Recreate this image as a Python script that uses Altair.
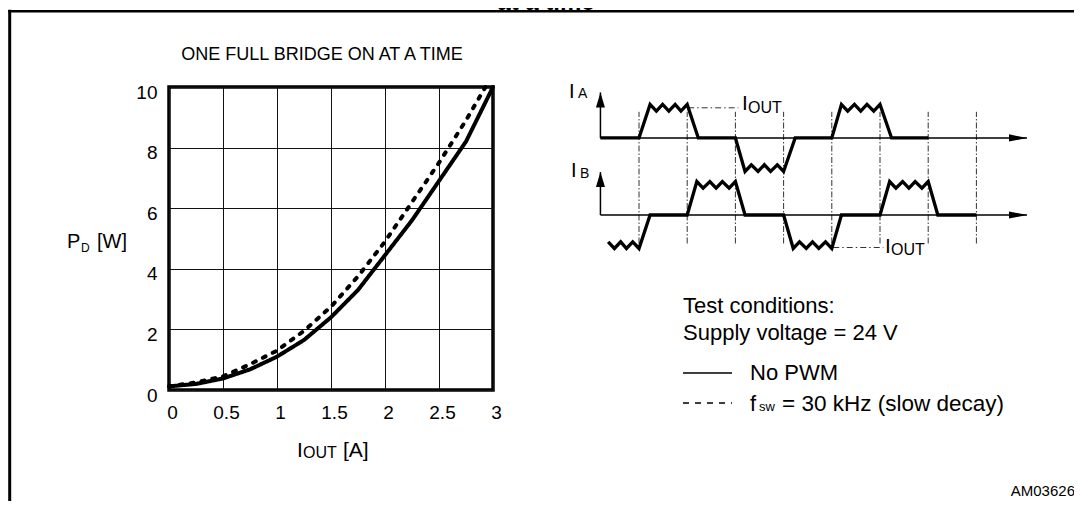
import altair as alt
import pandas as pd

FONT = "Liberation Sans"

# ---------------- data: power dissipation vs output current ----------------
iout_nopwm = [0.0, 0.25, 0.5, 0.75, 1.0, 1.25, 1.5, 1.75, 2.0, 2.25, 2.5, 2.75, 3.0]
pd_nopwm = [0.12, 0.2, 0.38, 0.68, 1.1, 1.65, 2.4, 3.3, 4.45, 5.6, 6.9, 8.2, 10.0]

iout_pwm = [0.0, 0.25, 0.5, 0.75, 1.0, 1.25, 1.5, 1.75, 2.0, 2.25, 2.5, 2.75, 2.93]
pd_pwm = [0.12, 0.25, 0.45, 0.85, 1.3, 1.95, 2.75, 3.75, 4.9, 6.2, 7.5, 8.9, 10.0]

series_names = ["No PWM", "fsw = 30 kHz (slow decay)"]

x_ticks = [0, 0.5, 1, 1.5, 2, 2.5, 3]
y_ticks = [0, 2, 4, 6, 8, 10]

# ---------------- waveform sketch (t in switching periods, current in I_OUT units) ----------------
ia_t = [0.2, 1.0, 1.23, 1.36, 1.49, 1.62, 1.75, 1.87, 2.0, 2.23, 3.0, 3.2, 3.33, 3.47, 3.6,
        3.73, 3.87, 4.0, 4.24, 5.0, 5.2, 5.33, 5.47, 5.6, 5.73, 5.87, 6.0, 6.24, 7.0]
ia_v = [0, 0, 1.0, 0.8, 1.0, 0.8, 1.0, 0.8, 1.0, 0, 0, -1.0, -0.8, -1.0, -0.8,
        -1.0, -0.8, -1.0, 0, 0, 1.0, 0.8, 1.0, 0.8, 1.0, 0.8, 1.0, 0, 0]
ib_t = [0.36, 0.49, 0.62, 0.74, 0.87, 1.0, 1.23, 2.0, 2.2, 2.33, 2.47, 2.6, 2.73, 2.87, 3.0,
        3.2, 4.0, 4.2, 4.33, 4.47, 4.6, 4.73, 4.87, 5.0, 5.2, 6.0, 6.2, 6.33, 6.47, 6.6,
        6.73, 6.87, 7.0, 7.2, 8.0]
ib_v = [-0.8, -1.0, -0.8, -1.0, -0.8, -1.0, 0, 0, 1.0, 0.8, 1.0, 0.8, 1.0, 0.8, 1.0,
        0, 0, -1.0, -0.8, -1.0, -0.8, -1.0, -0.8, -1.0, 0, 0, 1.0, 0.8, 1.0, 0.8,
        1.0, 0.8, 1.0, 0, 0]
IA_BASE = 2.3
IB_BASE = 0.0
period_marks = [1, 2, 3, 4, 5, 6, 7, 8]
axis_start, axis_end = 0.2, 9.05
ia_arrow_top, ib_arrow_top = 3.66, 1.28
iout_a = (2.02, 3.06, 3.2)
iout_b = (5.03, 6.07, -0.97)

# ---------------- layout (page pixels) ----------------
OX, OY = 169, 87          # plot area origin on the page
PW, PH = 324, 303         # plot area size
SVG_W, SVG_H = 1066, 493


def px(x):
    return x - OX


def py(y):
    return y - OY


ONE = alt.Data(values=[{}])


def txt(s, x, y, size, align="left", weight="normal"):
    return alt.Chart(ONE).mark_text(
        text=s, font=FONT, fontSize=size, align=align, baseline="alphabetic",
        fontWeight=weight, color="black"
    ).encode(x=alt.value(px(x)), y=alt.value(py(y)))


def hline(x1, x2, y, width=1.5, dash=None):
    kw = dict(color="black", strokeWidth=width)
    if dash:
        kw["strokeDash"] = dash
    return alt.Chart(ONE).mark_rule(**kw).encode(
        x=alt.value(px(x1)), x2=alt.value(px(x2)), y=alt.value(py(y)))


# ---------------- main plot ----------------
xs = alt.Scale(domain=[0, 3], nice=False, zero=False)
ys = alt.Scale(domain=[0, 10], nice=False, zero=False)
common_axis = dict(grid=True, gridColor="#111111", gridWidth=1, gridOpacity=1,
                   domain=False, ticks=False, labelFont=FONT, labelColor="black",
                   labelFontSize=19, labelFontWeight="normal", labelFlush=False,
                   labelOverlap=False, labelExpr="'' + datum.value", title=None)
x_axis = alt.Axis(values=x_ticks, labelPadding=13, labelOffset=3, **common_axis)
y_axis = alt.Axis(values=y_ticks, labelPadding=12, labelOffset=5, **common_axis)

df_curves = pd.concat([
    pd.DataFrame({"iout": iout_nopwm, "pd": pd_nopwm, "series": series_names[0]}),
    pd.DataFrame({"iout": iout_pwm, "pd": pd_pwm, "series": series_names[1]}),
])

main = alt.Chart(df_curves).mark_line(color="black", strokeWidth=4, strokeJoin="round",
                                      strokeCap="round").encode(
    x=alt.X("iout:Q", scale=xs, axis=x_axis),
    y=alt.Y("pd:Q", scale=ys, axis=y_axis),
    strokeDash=alt.StrokeDash("series:N", legend=None,
                              scale=alt.Scale(domain=series_names, range=[[1, 0], [3, 8]])),
    order="iout:Q",
)

# ---------------- waveform sketch ----------------
T0_PX, T_UNIT = 590.8, 48.2
W0_PY, W_UNIT = 215.0, 33.5
ts = alt.Scale(domain=[0, 9], range=[px(T0_PX), px(T0_PX + 9 * T_UNIT)], nice=False, zero=False)
ws = alt.Scale(domain=[-1.5, 4], range=[py(W0_PY + 1.5 * W_UNIT), py(W0_PY - 4 * W_UNIT)],
               nice=False, zero=False)

df_wave = pd.concat([
    pd.DataFrame({"t": ia_t, "w": [v + IA_BASE for v in ia_v], "trace": "IA",
                  "i": range(len(ia_t))}),
    pd.DataFrame({"t": ib_t, "w": [v + IB_BASE for v in ib_v], "trace": "IB",
                  "i": range(len(ib_t))}),
])
wave_lines = alt.Chart(df_wave).mark_line(color="black", strokeWidth=3.3,
                                          strokeJoin="miter").encode(
    x=alt.X("t:Q", scale=ts, axis=None),
    y=alt.Y("w:Q", scale=ws, axis=None),
    detail="trace:N",
    order="i:Q",
)

df_per = pd.DataFrame({"t": period_marks, "w0": -0.85, "w1": 3.08})
period_rules = alt.Chart(df_per).mark_rule(color="#333333", strokeWidth=1,
                                           strokeDash=[6, 2, 1.5, 2]).encode(
    x=alt.X("t:Q", scale=ts, axis=None),
    y=alt.Y("w0:Q", scale=ws, axis=None),
    y2="w1:Q",
)

df_ax = pd.DataFrame({
    "t0": [axis_start, axis_start, axis_start, axis_start],
    "t1": [axis_end, axis_end, axis_start, axis_start],
    "w0": [IA_BASE, IB_BASE, IA_BASE, IB_BASE],
    "w1": [IA_BASE, IB_BASE, ia_arrow_top, ib_arrow_top],
})
axes_rules = alt.Chart(df_ax).mark_rule(color="black", strokeWidth=1.5).encode(
    x=alt.X("t0:Q", scale=ts, axis=None), x2="t1:Q",
    y=alt.Y("w0:Q", scale=ws, axis=None), y2="w1:Q",
)

arrow_len_t = 9 / T_UNIT
arrow_len_w = 7.5 / W_UNIT
df_ar_r = pd.DataFrame({"t": [axis_end - arrow_len_t] * 2, "w": [IA_BASE, IB_BASE]})
df_ar_u = pd.DataFrame({"t": [axis_start] * 2,
                        "w": [ia_arrow_top - arrow_len_w, ib_arrow_top - arrow_len_w]})
arrows_r = alt.Chart(df_ar_r).mark_point(shape="M1,0L-1,-0.4L-1,0.4Z", filled=True, size=324,
                                         color="black", opacity=1, strokeWidth=0).encode(
    x=alt.X("t:Q", scale=ts, axis=None), y=alt.Y("w:Q", scale=ws, axis=None))
arrows_u = alt.Chart(df_ar_u).mark_point(shape="M0,-1L0.6,1L-0.6,1Z", filled=True, size=225,
                                         color="black", opacity=1, strokeWidth=0).encode(
    x=alt.X("t:Q", scale=ts, axis=None), y=alt.Y("w:Q", scale=ws, axis=None))

df_io = pd.DataFrame({"t0": [iout_a[0], iout_b[0]], "t1": [iout_a[1], iout_b[1]],
                      "w": [iout_a[2], iout_b[2]]})
iout_rules = alt.Chart(df_io).mark_rule(color="#333333", strokeWidth=1,
                                        strokeDash=[6, 3, 1.5, 3]).encode(
    x=alt.X("t0:Q", scale=ts, axis=None), x2="t1:Q",
    y=alt.Y("w:Q", scale=ws, axis=None),
)

wave = alt.layer(period_rules, iout_rules, axes_rules, wave_lines, arrows_r, arrows_u)

# ---------------- texts ----------------
texts = [
    txt("at a time", 546, 9.5, 24, align="center", weight="bold"),
    txt("ONE FULL BRIDGE ON AT A TIME", 322, 60, 18, align="center"),
    # y axis title P_D [W]
    txt("P", 67, 248, 20), txt("D", 81, 252, 12), txt("[W]", 97, 248, 20),
    # x axis title I_OUT [A]
    txt("I", 297, 457, 21), txt("OUT", 303, 458, 16), txt("[A]", 343, 457, 21),
    # waveform labels
    txt("I", 569, 98, 20), txt("A", 578, 98, 14),
    txt("I", 571, 177, 20), txt("B", 580, 178, 14),
    txt("I", 742, 110, 21), txt("OUT", 748, 113, 16),
    txt("I", 885, 253, 21), txt("OUT", 891, 255, 16),
    # test conditions / legend
    txt("Test conditions:", 683, 313, 22),
    txt("Supply voltage = 24 V", 683, 340, 22),
    txt("No PWM", 750, 380, 22),
    txt("f", 750, 411, 22), txt("sw", 759, 411, 13),
    txt("= 30 kHz (slow decay)", 782, 411, 22.5),
    txt("AM03626", 1075, 496, 15, align="right"),
]

frame = [
    alt.Chart(ONE).mark_rule(color="black", strokeWidth=3).encode(
        x=alt.value(px(9.7)), y=alt.value(py(9.8)), y2=alt.value(py(SVG_H + 20))),
    alt.Chart(ONE).mark_rule(color="black", strokeWidth=2.5).encode(
        x=alt.value(px(8.3)), x2=alt.value(px(SVG_W + 20)), y=alt.value(py(11.2))),
]

legend_lines = [
    hline(683, 732, 373, width=1.5),
    hline(683, 732, 403, width=1.5, dash=[6, 6]),
]

chart = alt.layer(main, wave, *texts, *frame, *legend_lines).properties(
    width=PW, height=PH,
    autosize=alt.AutoSizeParams(type="none"),
    padding={"left": OX - 8, "top": OY - 8,
             "right": SVG_W - (OX - 8) - PW, "bottom": SVG_H - (OY - 8) - PH},
).resolve_scale(x="independent", y="independent").configure(
    background="white",
    view=alt.ViewConfig(stroke="black", strokeWidth=3.5),
)

chart.save("out.html", embed_options={"renderer": "svg", "actions": False})
